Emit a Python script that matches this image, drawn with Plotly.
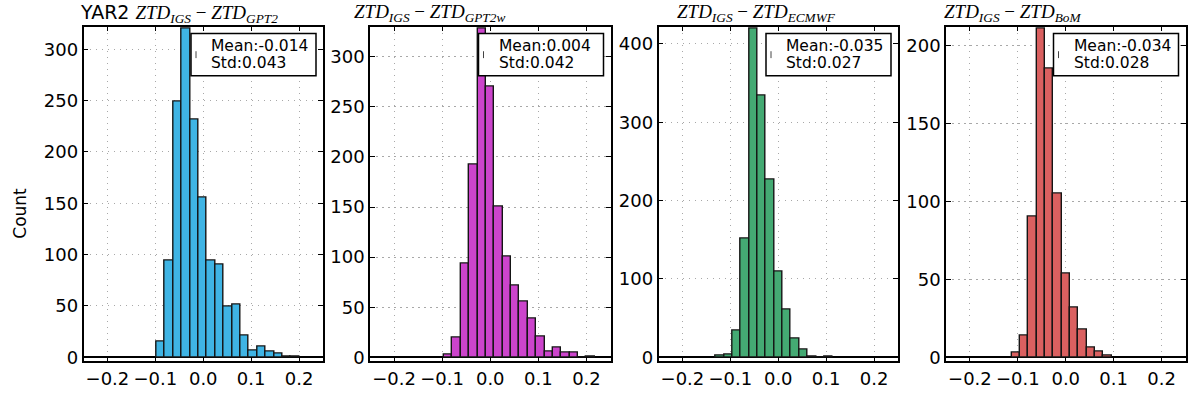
import plotly.graph_objects as go

# ---------------- data ----------------
panel_titles = [
    'YAR2 <span style="font-family:Liberation Serif"><i>ZTD<sub>IGS</sub></i> − <i>ZTD<sub>GPT2</sub></i></span>',
    '<span style="font-family:Liberation Serif"><i>ZTD<sub>IGS</sub></i> − <i>ZTD<sub>GPT2w</sub></i></span>',
    '<span style="font-family:Liberation Serif"><i>ZTD<sub>IGS</sub></i> − <i>ZTD<sub>ECMWF</sub></i></span>',
    '<span style="font-family:Liberation Serif"><i>ZTD<sub>IGS</sub></i> − <i>ZTD<sub>BoM</sub></i></span>',
]
means = ["-0.014", "0.004", "-0.035", "-0.034"]
stds = ["0.043", "0.042", "0.027", "0.028"]

first_edge = [-0.0977, -0.0960, -0.1300, -0.1127]
bin_width = [0.01755, 0.0174, 0.0174, 0.0174]

counts_gpt2 = [15, 94, 249, 320, 231, 156, 94, 90, 49, 51, 21, 7, 10, 6, 4, 1, 1]
counts_gpt2w = [3, 20, 94, 192, 328, 270, 150, 101, 72, 56, 39, 21, 6, 10, 5, 5, 0, 1]
counts_ecmwf = [2, 4, 34, 151, 420, 334, 227, 110, 61, 24, 10, 1, 0, 1]
counts_bom = [3, 14, 90, 211, 185, 105, 54, 32, 18, 6, 4, 1]
all_counts = [counts_gpt2, counts_gpt2w, counts_ecmwf, counts_bom]

x_ticks = [-0.2, -0.1, 0.0, 0.1, 0.2]
x_tick_text = ["−0.2", "−0.1", "0.0", "0.1", "0.2"]
y_ticks = [
    [0, 50, 100, 150, 200, 250, 300],
    [0, 50, 100, 150, 200, 250, 300],
    [0, 100, 200, 300, 400],
    [0, 50, 100, 150, 200],
]
y_top = [322, 330, 422, 212]

# ---------------- style / layout ----------------
colors = ["#3fb4e4", "#cc44cc", "#44aa73", "#da6060"]
W_FIG, H_FIG = 1190, 400
px_x = [(83.5, 323.0), (370.0, 610.5), (658.5, 898.0), (946.0, 1185.5)]
px_y = (27.0, 367.0)
title_left_px = [78, 351.7, 675, 941.7]
FONT = "DejaVu Sans"
TICK_SIZE = 18
GRID = dict(showgrid=True, gridcolor="#a8a8a8", griddash="1.5px,4.5px", gridwidth=1)

fig = go.Figure()
layout = dict(
    width=W_FIG, height=H_FIG,
    margin=dict(l=0, r=0, t=0, b=0),
    paper_bgcolor="white", plot_bgcolor="white",
    showlegend=False, bargap=0,
    font=dict(family=FONT, size=17, color="black"),
)
shapes = []
annotations = []

for i in range(4):
    n = "" if i == 0 else str(i + 1)
    counts = all_counts[i]
    centers = [first_edge[i] + bin_width[i] * (k + 0.5) for k in range(len(counts))]
    fig.add_trace(go.Bar(
        x=centers, y=counts, width=bin_width[i],
        marker=dict(color=colors[i], line=dict(color="#151515", width=1.4)),
        xaxis="x" + n, yaxis="y" + n,
    ))
    x0, x1 = px_x[i]
    W = x1 - x0
    H = px_y[1] - px_y[0]
    layout["xaxis" + n] = dict(
        domain=[x0 / W_FIG, x1 / W_FIG], anchor="y" + n,
        range=[-0.25, 0.25], tickvals=x_ticks, ticktext=x_tick_text,
        zeroline=False, showline=True, linecolor="black", linewidth=1.5,
        mirror="ticks", ticks="inside", ticklen=5, tickcolor="black", tickwidth=1,
        tickfont=dict(size=TICK_SIZE, family=FONT), **GRID,
    )
    yt = y_top[i]
    layout["yaxis" + n] = dict(
        domain=[1 - px_y[1] / H_FIG, 1 - px_y[0] / H_FIG], anchor="x" + n,
        range=[-0.0125 * yt, yt], tickvals=y_ticks[i],
        zeroline=True, zerolinecolor="black", zerolinewidth=1.5,
        showline=True, linecolor="black", linewidth=1.5,
        mirror="ticks", ticks="inside", ticklen=5, tickcolor="black", tickwidth=1,
        tickfont=dict(size=TICK_SIZE, family=FONT), **GRID,
    )
    xd = "x" + n + " domain"
    yd = "y" + n + " domain"
    # legend box
    shapes.append(dict(
        type="rect", xref=xd, yref=yd, layer="above",
        x0=1 - 132 / W, x1=1 - 7 / W, y0=1 - 50 / H, y1=1 - 7 / H,
        fillcolor="white", line=dict(color="black", width=1.5),
    ))
    shapes.append(dict(
        type="line", xref=xd, yref=yd, layer="above",
        x0=1 - 127 / W, x1=1 - 127 / W, y0=1 - 32 / H, y1=1 - 25 / H,
        line=dict(color="#444444", width=1),
    ))
    annotations.append(dict(
        xref=xd, yref=yd, x=1, y=1, xshift=-113.7, yshift=-19.5,
        xanchor="left", yanchor="middle", showarrow=False, height=16,
        text="Mean:" + means[i], font=dict(size=15.5, family=FONT),
    ))
    annotations.append(dict(
        xref=xd, yref=yd, x=1, y=1, xshift=-113.7, yshift=-36.5,
        xanchor="left", yanchor="middle", showarrow=False, height=16,
        text="Std:" + stds[i], font=dict(size=15.5, family=FONT),
    ))
    annotations.append(dict(
        xref="paper", yref="paper", x=title_left_px[i] / W_FIG, y=1 - 13.5 / H_FIG,
        xanchor="left", yanchor="middle", showarrow=False,
        text=panel_titles[i], font=dict(size=19, family=FONT),
    ))

annotations.append(dict(
    xref="paper", yref="paper", x=20 / W_FIG, y=1 - 217 / H_FIG,
    xanchor="center", yanchor="middle", showarrow=False, textangle=-90,
    text="Count", font=dict(size=17, family=FONT),
))

layout["shapes"] = shapes
layout["annotations"] = annotations
fig.update_layout(**layout)
fig.write_html("out.html")
